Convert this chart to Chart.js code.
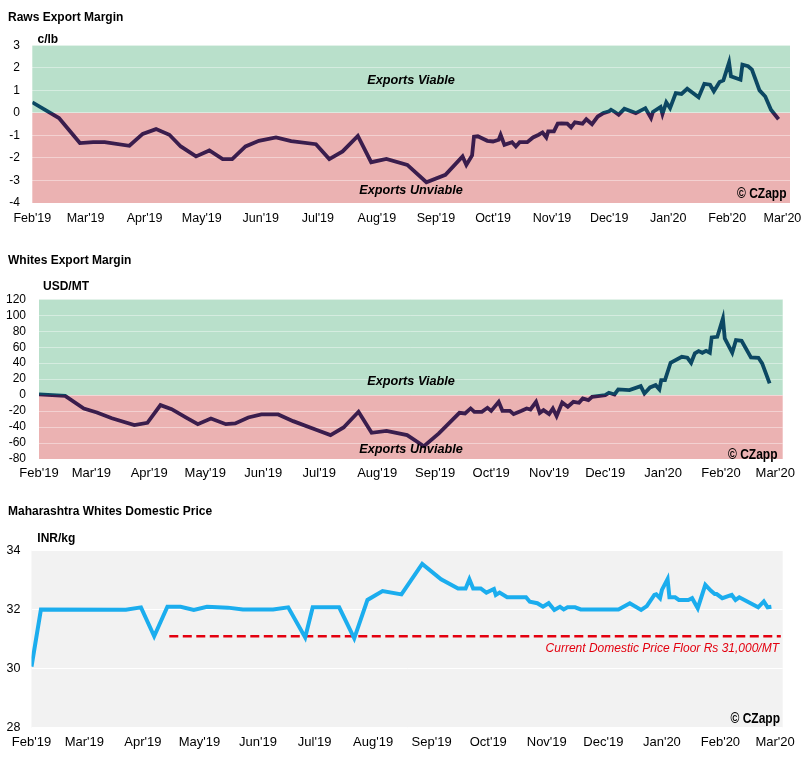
<!DOCTYPE html>
<html>
<head>
<meta charset="utf-8">
<script src="https://cdn.jsdelivr.net/npm/chart.js@4.4.1/dist/chart.umd.min.js"></script>
<style>
  body { margin: 0; background: #fff; }
  .box { position: absolute; left: 0; width: 810px; }
</style>
</head>
<body>
<div class="box" style="top:0;height:240px"><canvas id="rawsCanvas"></canvas></div>
<div class="box" style="top:240px;height:250px"><canvas id="whitesCanvas"></canvas></div>
<div class="box" style="top:490px;height:274px"><canvas id="priceCanvas"></canvas></div>
<script>
// x values are days counted from 1 Feb 2019
const monthDays = [0, 28, 59, 89, 120, 150, 181, 212, 242, 273, 303, 334, 365, 394];
const monthLabels = ["Feb'19", "Mar'19", "Apr'19", "May'19", "Jun'19", "Jul'19", "Aug'19",
  "Sep'19", "Oct'19", "Nov'19", "Dec'19", "Jan'20", "Feb'20", "Mar'20"];
const axisEnd = 398;

// Raws export margin, c/lb
const rawDays = [0, 14, 25, 32, 38, 51, 58, 65, 72, 78, 86, 93, 100, 105, 112, 119, 128, 136, 149, 156,
  163, 171, 178, 186, 197, 207, 217, 226, 228, 231, 232, 234, 239, 242, 245, 246, 248, 252, 254, 256,
  260, 263, 266, 268, 270, 271, 274, 276, 278, 281, 283, 285, 289, 291, 294, 297, 300, 303, 304, 306,
  308, 311, 317, 322, 325, 326, 330, 331, 333, 335, 338, 341, 344, 350, 353, 356, 358, 361, 363, 366,
  367, 372, 373, 376, 378, 382, 385, 388, 392];
const rawMargin = [0.47, -0.23, -1.34, -1.30, -1.30, -1.46, -0.93, -0.72, -0.97, -1.49, -1.93, -1.67, -2.05, -2.05, -1.49, -1.24, -1.09, -1.25, -1.39, -2.05,
  -1.71, -1.02, -2.19, -2.04, -2.31, -3.08, -2.75, -1.93, -2.31, -1.89, -1.06, -1.04, -1.24, -1.27, -1.19, -0.97, -1.42, -1.30, -1.49, -1.30,
  -1.30, -1.09, -0.97, -0.87, -1.09, -0.82, -0.82, -0.48, -0.47, -0.48, -0.64, -0.42, -0.48, -0.28, -0.50, -0.16, -0.01, 0.07, 0.14, 0.04,
  -0.08, 0.18, -0.01, 0.21, -0.23, 0.04, 0.26, -0.05, 0.47, 0.21, 0.88, 0.84, 1.07, 0.69, 1.29, 1.25, 0.96, 1.37, 1.44, 2.24,
  1.62, 1.47, 2.14, 2.07, 1.92, 1.00, 0.73, 0.14, -0.28];

// Whites export margin, USD/MT
const whiteDays = [0, 14, 24, 31, 39, 51, 58, 65, 71, 79, 85, 92, 100, 105, 112, 119, 128, 136, 149, 156,
  163, 171, 178, 186, 197, 206, 214, 225, 228, 231, 233, 237, 240, 242, 246, 248, 252, 254, 258, 261,
  263, 266, 268, 270, 273, 275, 277, 280, 283, 286, 289, 291, 294, 296, 303, 305, 308, 310, 316, 322,
  324, 327, 330, 332, 333, 335, 338, 344, 347, 349, 351, 353, 355, 357, 359, 360, 363, 366, 367, 371,
  373, 376, 381, 385, 387, 391];
const whiteMargin = [1, -1, -16.7, -21.7, -29, -37.6, -34.7, -12.5, -17.6, -28.4, -36.4, -29.3, -36.4, -35.5, -28, -24.2, -24.2, -32.6, -43.9, -50,
  -40.5, -20.9, -47.2, -44.7, -50, -64, -48, -22.2, -23, -16.7, -20.9, -20.9, -15.9, -19.7, -8.4, -19.7, -19.7, -23.8, -20, -16.7,
  -18, -8.4, -22.2, -18.8, -23.8, -16.7, -26.3, -9.2, -14.6, -8.4, -9.6, -4.2, -6.3, -2.1, 0, 2.9, 0.8, 7.1, 6.3, 11.3,
  2.1, 9.6, 12.5, 7.1, 18.8, 18.8, 40.5, 48, 46.8, 40.5, 52.3, 55.2, 53, 55.5, 53, 72.3, 73, 96, 71, 53,
  69, 68, 47.3, 46.8, 39.7, 14.7];

// Maharashtra whites domestic price, INR/kg
const priceDays = [0, 5, 50, 58, 65, 72, 79, 86, 93, 104, 112, 128, 136, 145, 149, 163, 171, 178, 186, 196,
  207, 217, 226, 230, 232, 234, 238, 241, 245, 246, 248, 252, 262, 264, 268, 271, 274, 277, 280, 282,
  284, 288, 291, 311, 317, 323, 326, 330, 331, 333, 334, 337, 338, 341, 343, 348, 350, 353, 357, 360,
  362, 363, 366, 371, 373, 375, 385, 388, 390, 392];
const domesticPrice = [30.07, 32.01, 32.0, 32.08, 31.1, 32.1, 32.1, 31.99, 32.1, 32.07, 32.01, 32.01, 32.08, 31.06, 32.08, 32.08, 31.03, 32.33, 32.63, 32.52,
  33.55, 33.03, 32.72, 32.72, 33.03, 32.72, 32.72, 32.58, 32.70, 32.5, 32.58, 32.42, 32.42, 32.27, 32.22, 32.1, 32.22, 31.99, 32.1, 32.01,
  32.08, 32.08, 32.01, 32.01, 32.22, 31.99, 32.12, 32.5, 32.52, 32.39, 32.67, 33.04, 32.42, 32.42, 32.33, 32.33, 32.39, 32.05, 32.84, 32.64,
  32.53, 32.53, 32.39, 32.5, 32.33, 32.42, 32.08, 32.28, 32.08, 32.1];
const floorDays = [73, 397];
const floorPrice = [31.1, 31.1];

const FONT = '"Liberation Sans", Arial, sans-serif';
const GREEN = '#b9e0cb';
const RED = '#ebb2b2';
const PURPLE = '#3a1d4d';
const TEAL = '#0c4863';

Chart.defaults.font.family = FONT;
Chart.defaults.color = '#000';

const toPoints = (xs, ys) => xs.map((x, i) => ({ x: x, y: ys[i] }));

// line turns teal above zero, purple below
function marginColor(context) {
  const chart = context.chart;
  const area = chart.chartArea;
  if (!area) return PURPLE;
  const zero = chart.scales.y.getPixelForValue(0);
  let stop = (zero - area.top) / (area.bottom - area.top);
  stop = Math.min(Math.max(stop, 0), 1);
  const g = chart.ctx.createLinearGradient(0, area.top, 0, area.bottom);
  g.addColorStop(0, TEAL);
  g.addColorStop(stop, TEAL);
  g.addColorStop(stop, PURPLE);
  g.addColorStop(1, PURPLE);
  return g;
}

function bands(fill) {
  return {
    id: 'bands',
    beforeDraw(chart) {
      const { ctx, chartArea: a } = chart;
      ctx.save();
      if (fill) {
        ctx.fillStyle = fill;
        ctx.fillRect(a.left, a.top, a.width, a.height);
      } else {
        const zero = chart.scales.y.getPixelForValue(0);
        ctx.fillStyle = GREEN;
        ctx.fillRect(a.left, a.top, a.width, zero - a.top);
        ctx.fillStyle = RED;
        ctx.fillRect(a.left, zero, a.width, a.bottom - zero);
      }
      ctx.restore();
    }
  };
}

// free text; squeeze < 1 narrows the glyphs (the watermark uses a condensed face)
function notes(items) {
  return {
    id: 'notes',
    afterDraw(chart) {
      const ctx = chart.ctx;
      items.forEach(n => {
        ctx.save();
        ctx.textBaseline = 'alphabetic';
        ctx.font = n.font;
        ctx.fillStyle = n.color || '#000';
        ctx.textAlign = n.align || 'left';
        ctx.translate(n.x, n.y);
        if (n.squeeze) ctx.scale(n.squeeze, 1);
        ctx.fillText(n.text, 0, 0);
        ctx.restore();
      });
    }
  };
}

function xAxis(size, pad, height) {
  return {
    type: 'linear',
    min: 0,
    max: axisEnd,
    afterBuildTicks: s => { s.ticks = monthDays.map(v => ({ value: v })); },
    afterFit: s => { s.height = height; },
    ticks: {
      callback: (v, i) => monthLabels[i],
      autoSkip: false,
      maxRotation: 0,
      padding: pad,
      font: { size: size }
    },
    grid: { display: false, drawTicks: false },
    border: { display: false }
  };
}

function yAxis(min, max, step, width, pad, gridColor, size) {
  return {
    min: min,
    max: max,
    afterFit: s => { s.width = width; },
    ticks: { stepSize: step, padding: pad, autoSkip: false, font: { size: size } },
    grid: { color: gridColor, drawTicks: false, lineWidth: 1 },
    border: { display: false }
  };
}

function baseOptions(padding, scales) {
  return {
    responsive: true,
    maintainAspectRatio: false,
    animation: false,
    layout: { padding: padding },
    scales: scales,
    elements: { point: { radius: 0 }, line: { tension: 0 } },
    plugins: { legend: { display: false }, tooltip: { enabled: false } }
  };
}

const wmFont = 'bold 15px ' + FONT;

new Chart(document.getElementById('rawsCanvas'), {
  type: 'line',
  data: {
    datasets: [{
      data: toPoints(rawDays, rawMargin),
      borderColor: marginColor,
      borderWidth: 3.8
    }]
  },
  options: baseOptions({ top: 45.3, right: 20, left: 0, bottom: 0 }, {
    x: xAxis(12.5, 8, 37),
    y: yAxis(-4, 3, 1, 32.3, 12.5, 'rgba(255,255,255,0.4)', 12)
  }),
  plugins: [bands(null), notes([
    { text: 'Raws Export Margin', x: 8, y: 21, font: 'bold 12px ' + FONT },
    { text: 'c/lb', x: 37.5, y: 42.5, font: 'bold 12px ' + FONT },
    { text: 'Exports Viable', x: 411, y: 83.5, align: 'center', font: 'italic bold 12.7px ' + FONT },
    { text: 'Exports Unviable', x: 411, y: 194, align: 'center', font: 'italic bold 12.7px ' + FONT },
    { text: '\u00a9 CZapp', x: 786.5, y: 198, align: 'right', squeeze: 0.8, font: wmFont }
  ])]
});

new Chart(document.getElementById('whitesCanvas'), {
  type: 'line',
  data: {
    datasets: [{
      data: toPoints(whiteDays, whiteMargin),
      borderColor: marginColor,
      borderWidth: 3.8
    }]
  },
  options: baseOptions({ top: 59.3, right: 27.3, left: 0, bottom: 0 }, {
    x: xAxis(13, 7, 31),
    y: yAxis(-80, 120, 20, 39, 13, 'rgba(255,255,255,0.4)', 12)
  }),
  plugins: [bands(null), notes([
    { text: 'Whites Export Margin', x: 8, y: 24, font: 'bold 12px ' + FONT },
    { text: 'USD/MT', x: 43, y: 50, font: 'bold 12px ' + FONT },
    { text: 'Exports Viable', x: 411, y: 145, align: 'center', font: 'italic bold 12.7px ' + FONT },
    { text: 'Exports Unviable', x: 411, y: 212.5, align: 'center', font: 'italic bold 12.7px ' + FONT },
    { text: '\u00a9 CZapp', x: 777.5, y: 219, align: 'right', squeeze: 0.8, font: wmFont }
  ])]
});

new Chart(document.getElementById('priceCanvas'), {
  type: 'line',
  data: {
    datasets: [{
      data: toPoints(priceDays, domesticPrice),
      borderColor: '#1badee',
      borderWidth: 4
    }, {
      data: toPoints(floorDays, floorPrice),
      borderColor: '#e3000f',
      borderWidth: 2.5,
      borderDash: [9, 4.5]
    }]
  },
  options: baseOptions({ top: 60.7, right: 27.3, left: 0, bottom: 0 }, {
    x: xAxis(13, 7, 36.3),
    y: yAxis(28, 34, 2, 31.5, 11, '#ffffff', 12.5)
  }),
  plugins: [bands('#f2f2f2'), notes([
    { text: 'Maharashtra Whites Domestic Price', x: 8, y: 24.7, font: 'bold 12px ' + FONT },
    { text: 'INR/kg', x: 37.3, y: 52.3, font: 'bold 12px ' + FONT },
    { text: 'Current Domestic Price Floor Rs 31,000/MT', x: 779, y: 161.5, align: 'right', color: '#e3000f', font: 'italic 12px ' + FONT },
    { text: '\u00a9 CZapp', x: 780, y: 232.7, align: 'right', squeeze: 0.8, font: wmFont }
  ])]
});
</script>
</body>
</html>
